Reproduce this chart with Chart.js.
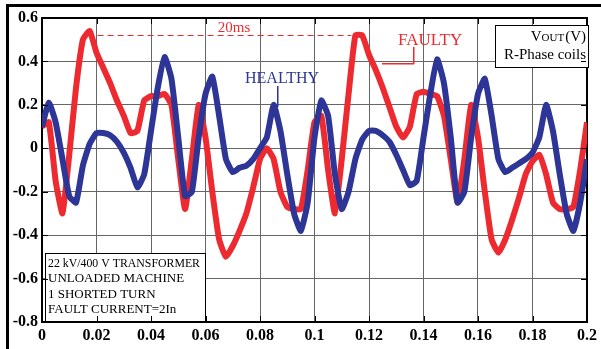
<!DOCTYPE html>
<html>
<head>
<meta charset="utf-8">
<script src="https://cdn.jsdelivr.net/npm/chart.js@4"></script>
<style>
  html, body { margin: 0; padding: 0; background: #fff; }
</style>
</head>
<body>
<canvas id="myChart" width="601" height="349"></canvas>
<script>
// time axis (s)
var timeS = [0, 0.0025, 0.005, 0.0075, 0.01, 0.0125, 0.015, 0.0175, 0.02, 0.0225,
  0.025, 0.0275, 0.03, 0.0325, 0.035, 0.0375, 0.04, 0.0425, 0.045, 0.0475,
  0.05, 0.0525, 0.055, 0.0575, 0.06, 0.0625, 0.065, 0.0675, 0.07, 0.0725,
  0.075, 0.0775, 0.08, 0.0825, 0.085, 0.0875, 0.09, 0.0925, 0.095, 0.0975,
  0.1, 0.1025, 0.105, 0.1075, 0.11, 0.1125, 0.115, 0.1175, 0.12, 0.1225,
  0.125, 0.1275, 0.13, 0.1325, 0.135, 0.1375, 0.14, 0.1425, 0.145, 0.1475,
  0.15, 0.1525, 0.155, 0.1575, 0.16, 0.1625, 0.165, 0.1675, 0.17, 0.1725,
  0.175, 0.1775, 0.18, 0.1825, 0.185, 0.1875, 0.19, 0.1925, 0.195, 0.1975, 0.2];

// healthy R-phase coil voltage (V)
var healthy = [0.10, 0.21, 0.12, -0.05, -0.22, -0.25, -0.08, 0.02, 0.07, 0.07,
  0.06, 0.03, -0.02, -0.09, -0.18, -0.12, 0.08, 0.28, 0.42, 0.32,
  0.05, -0.22, -0.20, 0.05, 0.25, 0.33, 0.15, -0.05, -0.11, -0.09,
  -0.08, -0.05, 0.00, 0.05, 0.20, 0.08, -0.12, -0.30, -0.38, -0.25,
  0.05, 0.22, 0.15, -0.12, -0.28, -0.20, -0.05, 0.04, 0.08, 0.08,
  0.06, 0.03, -0.03, -0.10, -0.17, -0.15, 0.05, 0.25, 0.41, 0.30,
  0.05, -0.25, -0.20, 0.05, 0.25, 0.32, 0.15, -0.05, -0.11, -0.09,
  -0.07, -0.05, -0.02, 0.05, 0.20, 0.08, -0.12, -0.30, -0.38, -0.25, -0.05];

// faulty R-phase coil voltage (V)
var faulty = [0.10, 0.12, -0.15, -0.30, -0.03, 0.28, 0.50, 0.54, 0.44, 0.37,
  0.30, 0.22, 0.15, 0.07, 0.08, 0.22, 0.24, 0.24, 0.25, 0.20,
  -0.05, -0.28, -0.05, 0.20, 0.05, -0.20, -0.42, -0.50, -0.45, -0.38,
  -0.30, -0.18, -0.05, 0.00, -0.05, -0.20, -0.27, -0.28, -0.28, -0.10,
  0.12, 0.15, -0.10, -0.30, -0.05, 0.25, 0.52, 0.52, 0.43, 0.36,
  0.28, 0.19, 0.10, 0.05, 0.10, 0.25, 0.26, 0.25, 0.24, 0.15,
  -0.05, -0.25, -0.05, 0.20, 0.05, -0.20, -0.42, -0.48, -0.42, -0.33,
  -0.23, -0.12, -0.06, -0.03, -0.12, -0.25, -0.28, -0.28, -0.27, -0.10, 0.12];

var xTicks = [0, 0.02, 0.04, 0.06, 0.08, 0.1, 0.12, 0.14, 0.16, 0.18, 0.2];
var yTicks = [-0.8, -0.6, -0.4, -0.2, 0, 0.2, 0.4, 0.6];
var infoLines = ["22 kV/400 V TRANSFORMER", "UNLOADED MACHINE", "1 SHORTED TURN", "FAULT CURRENT=2In"];

var blueC = "#2d3596";
var redC = "#ec2a30";

function pairs(ys) {
  return timeS.map(function(t, i) { return { x: t, y: ys[i] }; });
}

// bare axis used only for the top / right edge of the frame
function edgeAxis(pos, min, max, isX) {
  return {
    type: "linear",
    position: pos,
    min: min, max: max,
    afterFit: function(s) { if (isX) s.height = 0; else s.width = 0; },
    grid: { display: false },
    border: { display: true, color: "#000", width: 2 },
    ticks: { display: false }
  };
}

new Chart("myChart", {
  type: "line",
  data: {
    datasets: [{
      label: "HEALTHY",
      data: pairs(healthy),
      borderColor: blueC,
      borderWidth: 6,
      pointRadius: 0,
      tension: 0.15,
      order: 1
    }, {
      label: "FAULTY",
      data: pairs(faulty),
      borderColor: redC,
      borderWidth: 6,
      pointRadius: 0,
      tension: 0.15,
      order: 2
    }]
  },
  options: {
    responsive: false,
    animation: false,
    layout: { padding: { top: 18, right: 11, left: 0, bottom: 0 } },
    plugins: { legend: { display: false }, tooltip: { enabled: false } },
    scales: {
      x: {
        type: "linear",
        min: 0, max: 0.2,
        afterFit: function(s) { s.height = 27; },
        afterBuildTicks: function(s) { s.ticks = xTicks.map(function(v) { return { value: v }; }); },
        grid: { color: "#666", lineWidth: 1, drawTicks: false },
        border: { display: true, color: "#000", width: 2 },
        ticks: {
          padding: 4,
          color: "#000",
          maxRotation: 0,
          font: { family: "'Liberation Serif'", size: 16, weight: "bold" },
          callback: function(v) { return String(Number(v.toFixed(2))); }
        }
      },
      y: {
        min: -0.8, max: 0.6,
        afterFit: function(s) { s.width = 42; },
        afterBuildTicks: function(s) { s.ticks = yTicks.map(function(v) { return { value: v }; }); },
        grid: { color: "#666", lineWidth: 1, drawTicks: false },
        border: { display: true, color: "#000", width: 2 },
        ticks: {
          padding: 4,
          color: "#000",
          font: { family: "'Liberation Serif'", size: 16, weight: "bold" },
          callback: function(v) { return String(Number(v.toFixed(1))); }
        }
      },
      xTop: edgeAxis("top", 0, 0.2, true),
      yRight: edgeAxis("right", -0.8, 0.6, false)
    }
  },
  plugins: [{
    id: 'notes',
    afterDraw: function(chart) {
      var ctx = chart.ctx;
      var xs = chart.scales.x, ys = chart.scales.y;
      var L = xs.getPixelForValue(0), R = xs.getPixelForValue(0.2);
      var T = ys.getPixelForValue(0.6), B = ys.getPixelForValue(-0.8);
      ctx.save();

      // 20ms marker
      ctx.fillStyle = redC;
      var yd = Math.round(ys.getPixelForValue(0.52));
      var x0 = xs.getPixelForValue(0.0204), x1 = xs.getPixelForValue(0.1135);
      for (var x = x0; x < x1; x += 10) ctx.fillRect(x, yd, Math.min(6, x1 - x), 1);
      ctx.font = "15px 'Liberation Serif'";
      ctx.textAlign = "center";
      ctx.textBaseline = "alphabetic";
      ctx.fillText("20ms", xs.getPixelForValue(0.0705), yd - 3);

      // FAULTY label with leader
      ctx.font = "17px 'Liberation Serif'";
      ctx.textAlign = "left";
      ctx.fillText("FAULTY", 398, 45);
      ctx.fillRect(382, 63, 32, 1.5);
      ctx.fillRect(413, 47, 1.5, 17);

      // HEALTHY label with leader
      ctx.fillStyle = blueC;
      ctx.font = "16px 'Liberation Serif'";
      ctx.fillText("HEALTHY", 245, 83);
      ctx.fillRect(277, 86, 1.5, 21);

      // legend box
      ctx.fillStyle = "#fff";
      ctx.fillRect(495, 25, 93, 42);
      ctx.strokeStyle = "#000";
      ctx.lineWidth = 1;
      ctx.strokeRect(495.5, 25.5, 93, 42);
      ctx.fillStyle = "#000";
      ctx.textAlign = "right";
      ctx.font = "15px 'Liberation Serif'";
      ctx.fillText("(V)", 586, 41);
      var w1 = ctx.measureText("(V)").width;
      ctx.font = "11px 'Liberation Serif'";
      ctx.fillText("OUT", 586 - w1 - 1, 41);
      var w2 = ctx.measureText("OUT").width;
      ctx.font = "15px 'Liberation Serif'";
      ctx.fillText("V", 586 - w1 - w2 - 1, 41);
      ctx.fillText("R-Phase coils", 586, 59);

      // info box
      ctx.fillStyle = "#fff";
      ctx.fillRect(45, 253, 160, 68);
      ctx.strokeRect(45.5, 253.5, 160, 68);
      ctx.fillStyle = "#000";
      ctx.textAlign = "left";
      ctx.font = "13px 'Liberation Serif'";
      infoLines.forEach(function(s, i) {
        var w = ctx.measureText(s).width;
        var k = Math.min(1, 152 / w);
        ctx.save();
        ctx.translate(48, 267 + i * 15.3);
        ctx.scale(k, 1);
        ctx.fillText(s, 0, 0);
        ctx.restore();
      });

      // inward ticks
      ctx.fillStyle = "#000";
      xTicks.forEach(function(v) {
        var p = Math.round(xs.getPixelForValue(v));
        ctx.fillRect(p, B - 6, 1, 5);
        ctx.fillRect(p, T + 1, 1, 5);
      });
      yTicks.forEach(function(v) {
        var p = Math.round(ys.getPixelForValue(v));
        ctx.fillRect(L + 1, p, 5, 1);
        ctx.fillRect(R - 6, p, 5, 1);
      });

      // outer figure frame
      ctx.fillRect(6, 4, 595, 3);
      ctx.fillRect(6, 4, 3, 345);
      ctx.restore();
    }
  }]
});
</script>
</body>
</html>
